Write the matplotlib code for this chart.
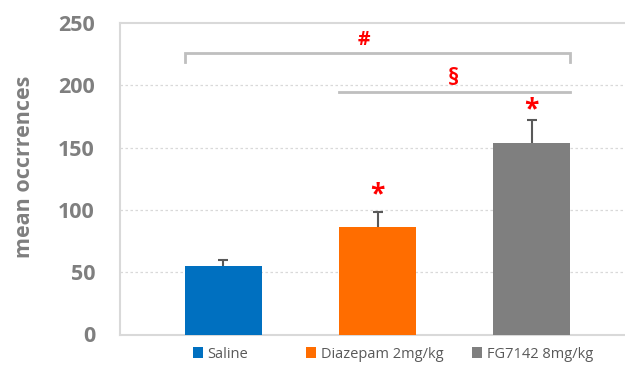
import matplotlib
matplotlib.use("Agg")
import matplotlib.pyplot as plt
from matplotlib.patches import Patch

groups = ["Saline", "Diazepam 2mg/kg", "FG7142 8mg/kg"]
means = [55, 86.5, 154]
errors = [5, 11.5, 18]
colors = ["#0070c0", "#ff6d00", "#7f7f7f"]
yticks = [0, 50, 100, 150, 200, 250]
ylabel = "mean occrrences"
star_y = [None, 112, 180]
hash_bracket = (-0.25, 2.25, 226, 219)   # x0, x1, y, tick bottom
hash_text = ("#", 0.91, 236)
sect_line = (0.75, 2.25, 194.5)
sect_text = ("§", 1.49, 205)
legend_x_px = [193, 306, 472]

fig = plt.figure(figsize=(6.25, 3.65), dpi=100)
ax = fig.add_axes([120/625, 30.5/365, 505/625, 311.5/365])

x = list(range(len(groups)))
ax.bar(x, means, width=0.5, color=colors, zorder=3)
eb = ax.errorbar(x, means, yerr=[[0]*3, errors], fmt="none", ecolor="#595959",
                 elinewidth=1.5, capsize=3.3, capthick=1.5, zorder=4)
eb[1][0].set_visible(False)

ax.set_xlim(-0.672, 2.607)
ax.set_ylim(0, 250)
ax.set_yticks(yticks)
ax.set_xticks([])
ax.tick_params(axis="y", length=0, pad=18, labelsize=15.5, labelcolor="#7f7f7f")
for lab in ax.get_yticklabels():
    lab.set_fontweight("bold")
    lab.set_fontfamily("Open Sans")
for yv in yticks[1:-1]:
    ax.axhline(yv, color="#d9d9d9", lw=0.9, ls=(0, (2, 2)), zorder=1)

for s in ["left", "top", "bottom"]:
    ax.spines[s].set_color("#d9d9d9")
    ax.spines[s].set_linewidth(1.5)
ax.spines["right"].set_visible(False)

fig.text(25/625, 1 - 167/365, ylabel, rotation=90, ha="center", va="center",
         fontsize=15.5, fontweight="bold", color="#7f7f7f", family="Open Sans")

# significance markers
x0, x1, yb, yt = hash_bracket
ax.plot([x0, x0, x1, x1], [yt, yb, yb, yt], color="#bfbfbf", lw=2, zorder=2,
        solid_joinstyle="miter")
ax.text(hash_text[1], hash_text[2], hash_text[0], color="#ff0000", ha="center",
        va="center", fontsize=14, fontweight="bold", family="Open Sans")
ax.plot([sect_line[0], sect_line[1]], [sect_line[2]]*2, color="#bfbfbf", lw=2, zorder=2)
ax.text(sect_text[1], sect_text[2], sect_text[0], color="#ff0000", ha="center",
        va="center", fontsize=16.5, fontweight="bold", family="Open Sans")
for xi, sy in zip(x, star_y):
    if sy is not None:
        ax.text(xi, sy, "*", color="#ff0000", ha="center", va="center",
                fontsize=19, fontweight="bold", family="Open Sans")

for g, c, px in zip(groups, colors, legend_x_px):
    leg = fig.legend([Patch(facecolor=c, edgecolor="none")], [g], loc="center left",
                     bbox_to_anchor=(px/625, 1 - 354/365), frameon=False,
                     handlelength=0.7, handleheight=0.7, handletextpad=0.3,
                     borderpad=0, borderaxespad=0,
                     prop={"family": "Open Sans", "size": 10.5})
    for t in leg.get_texts():
        t.set_color("#595959")

fig.savefig("out.png", dpi=100)
